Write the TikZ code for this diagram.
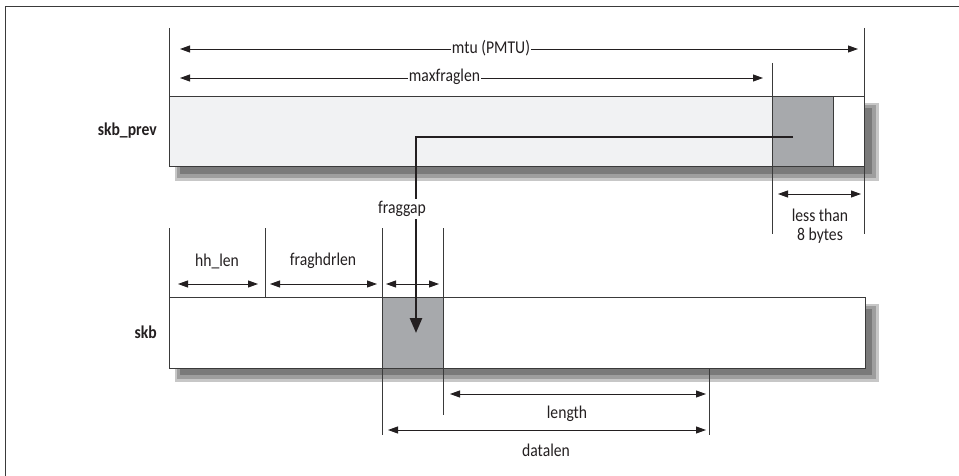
\documentclass[tikz,border=0pt]{standalone}
\usepackage{fontspec}
\setmainfont{Carlito}[FakeStretch=0.87]
\usetikzlibrary{arrows.meta}
\definecolor{ln}{HTML}{3A3A3A}
\definecolor{txt}{HTML}{231F20}
\definecolor{lightfill}{HTML}{F1F2F3}
\definecolor{blockgray}{HTML}{A7A9AC}
\begin{document}
\begin{tikzpicture}[x=1pt,y=-1pt,
 dim/.style={draw=txt, line width=0.9pt, {Triangle[length=10pt,width=7pt]}-{Triangle[length=10pt,width=7pt]}},
 guide/.style={draw=ln, line width=0.8pt},
 lbl/.style={font=\fontsize{18}{19}\selectfont, text=txt, inner sep=1pt},
 blbl/.style={font=\bfseries\fontsize{18}{19}\selectfont, text=txt, inner sep=0pt},
 seg/.style={draw=ln, line width=1pt, minimum height=70pt, inner sep=0pt, anchor=north west},
 sh1/.style={fill=black!22},
 sh2/.style={fill=black!38},
 sh3/.style={fill=black!52},
]
\useasboundingbox (0,0) rectangle (959,476);
\draw[line width=1pt, ln] (5,476) -- (5,7) -- (959,7);

% shadows
\fill[sh1] (175,103) rectangle (879,181);
\fill[sh2] (177,105) rectangle (876,178);
\fill[sh3] (180,108) rectangle (872,174);
\fill[sh1] (175,304) rectangle (879,382);
\fill[sh2] (177,306) rectangle (876,379);
\fill[sh3] (180,309) rectangle (872,375);

% skb_prev boxes
\node[seg, fill=lightfill, minimum width=603pt] (prevdata) at (169,96) {};
\node[seg, fill=blockgray, minimum width=61pt] (prevgap) at (772,96) {};
\node[seg, fill=white, minimum width=31pt] (prevrest) at (833,96) {};

% skb boxes
\node[seg, fill=white, minimum height=71pt, minimum width=213pt] (skbhead) at (169,297) {};
\node[seg, fill=blockgray, minimum height=71pt, minimum width=61pt] (skbgap) at (382,297) {};
\node[seg, fill=white, minimum height=71pt, minimum width=422pt] (skbdata) at (443,297) {};

% guide lines
\coordinate (g1a) at (169,28);  \coordinate (g1b) at (169,96);
\coordinate (g2a) at (864,28);  \coordinate (g2b) at (864,234);
\coordinate (g3a) at (772,63);  \coordinate (g3b) at (772,234);
\coordinate (g4a) at (169,228); \coordinate (g4b) at (169,297);
\coordinate (g5a) at (265,228); \coordinate (g5b) at (265,297);
\coordinate (g6a) at (382,228); \coordinate (g6b) at (382,435);
\coordinate (g7a) at (443,228); \coordinate (g7b) at (443,415);
\coordinate (g8a) at (709,368); \coordinate (g8b) at (709,435);
\foreach \g in {1,...,8} {\draw[guide] (g\g a) -- (g\g b);}

% dimension arrows
\coordinate (mtuL) at (180,49);  \coordinate (mtuR) at (858,49);
\coordinate (mfL) at (180,78);   \coordinate (mfR) at (763,78);
\coordinate (ltL) at (778,194);  \coordinate (ltR) at (861,194);
\coordinate (hhL) at (178,284);  \coordinate (hhR) at (258,284);
\coordinate (fhL) at (270,284);  \coordinate (fhR) at (377,284);
\coordinate (fgL) at (386,284);  \coordinate (fgR) at (439,284);
\coordinate (lnL) at (450,394);  \coordinate (lnR) at (706,394);
\coordinate (dlL) at (388,430);  \coordinate (dlR) at (706,430);
\draw[dim] (mtuL) -- (mtuR);
\draw[dim] (mfL) -- (mfR);
\draw[dim] (ltL) -- (ltR);
\draw[dim] (hhL) -- (hhR);
\draw[dim] (fhL) -- (fhR);
\draw[dim] (fgL) -- (fgR);
\draw[dim] (lnL) -- (lnR);
\draw[dim] (dlL) -- (dlR);

% fraggap arrow
\coordinate (fgstart) at (793,137);
\coordinate (fgend) at (416,333);
\draw[draw=txt, line width=2.6pt, -{Triangle[length=15pt,width=12pt]}] (fgstart) -| (fgend);

% labels
\node[lbl, fill=white] (mtu) at (491,48) {mtu (PMTU)};
\node[lbl, fill=white] (maxfl) at (444.5,77) {maxfraglen};
\node[lbl, align=center] (less) at (820,226) {less than\\8 bytes};
\node[lbl, fill=white, inner sep=2pt] (fraggap) at (402,209) {fraggap};
\node[lbl] (hhlen) at (217,261) {hh\_len};
\node[lbl] (fraghdr) at (323,261) {fraghdrlen};
\node[lbl] (length) at (567,414) {length};
\node[lbl] (datalen) at (546,450) {datalen};
\node[blbl, anchor=east] (skbprev) at (157,131) {skb\_prev};
\node[blbl, anchor=east] (skb) at (157,332) {skb};
\end{tikzpicture}
\end{document}
